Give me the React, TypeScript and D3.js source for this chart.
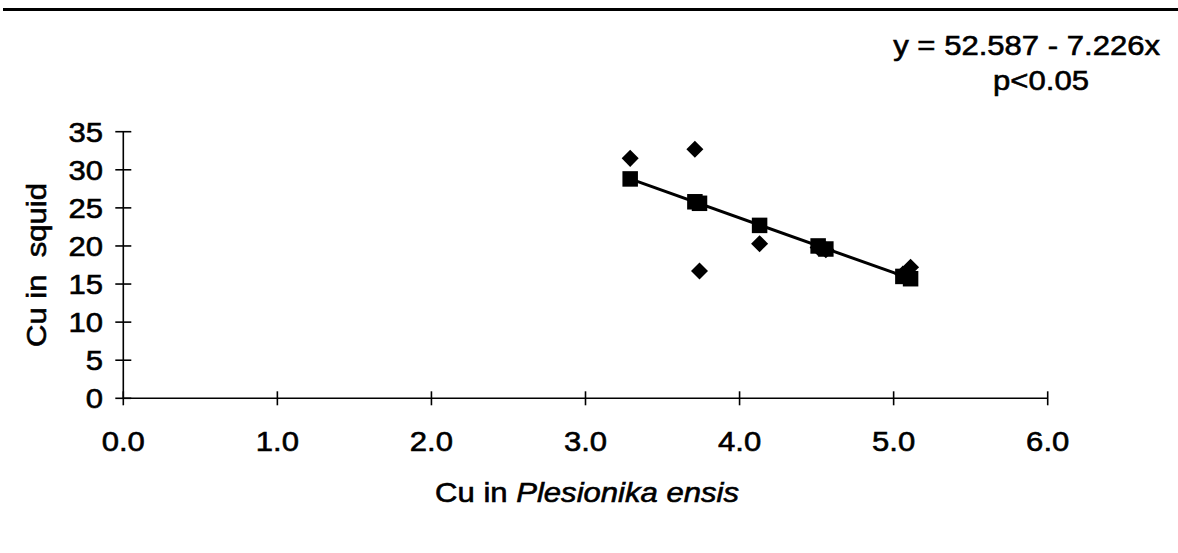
import React from "react";
import * as d3 from "d3";

// Observed values (diamonds)
const cuPlesionika = [3.29, 3.71, 3.74, 4.13, 4.51, 4.56, 5.06, 5.11];
const cuSquid = [31.5, 32.7, 16.7, 20.3, 19.8, 19.5, 16.3, 17.2];
// Fitted values (squares)
const cuSquidFitted = [28.8, 25.8, 25.6, 22.7, 20.0, 19.6, 16.0, 15.7];

const xTicks = [0, 1, 2, 3, 4, 5, 6];
const yTicks = [0, 5, 10, 15, 20, 25, 30, 35];
const equationText = "y = 52.587 - 7.226x";
const pText = "p<0.05";

const W = 1178;
const H = 553;
const FONT = "'Liberation Sans', Arial, sans-serif";
const SX = 1.13;

function T({
  x,
  y,
  anchor = "start",
  rotate = 0,
  children,
}: {
  x: number;
  y: number;
  anchor?: "start" | "middle" | "end";
  rotate?: number;
  children: React.ReactNode;
}) {
  return (
    <text
      transform={`translate(${x},${y}) rotate(${rotate}) scale(${SX},1)`}
      textAnchor={anchor}
      style={{
        fontFamily: FONT,
        fontSize: 27.5,
        fill: "#000",
        stroke: "#000",
        strokeWidth: 0.6,
        whiteSpace: "pre",
      }}
    >
      {children}
    </text>
  );
}

export default function App() {
  const x = d3.scaleLinear().domain([0, 6]).range([123.3, 1047.7]);
  const y = d3.scaleLinear().domain([0, 35]).range([398.3, 131.7]);

  const fitPts: [number, number][] = cuPlesionika.map((v, i) => [v, cuSquidFitted[i]]);
  const sorted = [...fitPts].sort((a, b) => a[0] - b[0]);
  const line = d3
    .line<[number, number]>()
    .x((d) => x(d[0]))
    .y((d) => y(d[1]));
  const lineEnds: [number, number][] = [sorted[0], sorted[sorted.length - 1]];

  const diamond = d3.symbol().type(d3.symbolDiamond2).size(185)();
  const sq = 15.5;

  return (
    <svg
      width={W}
      height={H}
      style={{ position: "fixed", left: 0, top: 0, background: "#fff" }}
    >
      <rect x={0} y={0} width={W} height={H} fill="#fff" />
      {/* top rule */}
      <line x1={3} x2={W} y1={9.5} y2={9.5} stroke="#000" strokeWidth={3} />

      {/* axes */}
      <line x1={x(0)} x2={x(6)} y1={y(0)} y2={y(0)} stroke="#000" strokeWidth={1.6} />
      <line x1={x(0)} x2={x(0)} y1={y(0)} y2={y(35)} stroke="#000" strokeWidth={1.6} />
      {xTicks.map((t) => (
        <g key={"xt" + t}>
          <line x1={x(t)} x2={x(t)} y1={y(0) - 7} y2={y(0) + 7} stroke="#000" strokeWidth={1.6} />
          <T x={x(t)} y={451} anchor="middle">
            {t.toFixed(1)}
          </T>
        </g>
      ))}
      {yTicks.map((t) => (
        <g key={"yt" + t}>
          <line x1={x(0) - 8} x2={x(0) + 8} y1={y(t)} y2={y(t)} stroke="#000" strokeWidth={1.6} />
          <T x={103} y={y(t) + 10} anchor="end">
            {String(t)}
          </T>
        </g>
      ))}

      {/* axis titles */}
      <T x={587} y={502} anchor="middle">
        Cu in <tspan fontStyle="italic">Plesionika ensis</tspan>
      </T>
      <T x={46} y={265} anchor="middle" rotate={-90}>
        {"Cu in  squid"}
      </T>

      {/* equation */}
      <T x={1160} y={55} anchor="end">
        {equationText}
      </T>
      <T x={1041} y={90} anchor="middle">
        {pText}
      </T>

      {/* regression line */}
      <path d={line(lineEnds) || ""} stroke="#000" strokeWidth={3} fill="none" />

      {/* observed diamonds */}
      {cuPlesionika.map((v, i) => (
        <path
          key={"d" + i}
          d={diamond || ""}
          transform={`translate(${x(v)},${y(cuSquid[i])})`}
          fill="#000"
        />
      ))}
      {/* fitted squares */}
      {cuPlesionika.map((v, i) => (
        <rect
          key={"s" + i}
          x={x(v) - sq / 2}
          y={y(cuSquidFitted[i]) - sq / 2}
          width={sq}
          height={sq}
          fill="#000"
        />
      ))}
    </svg>
  );
}
